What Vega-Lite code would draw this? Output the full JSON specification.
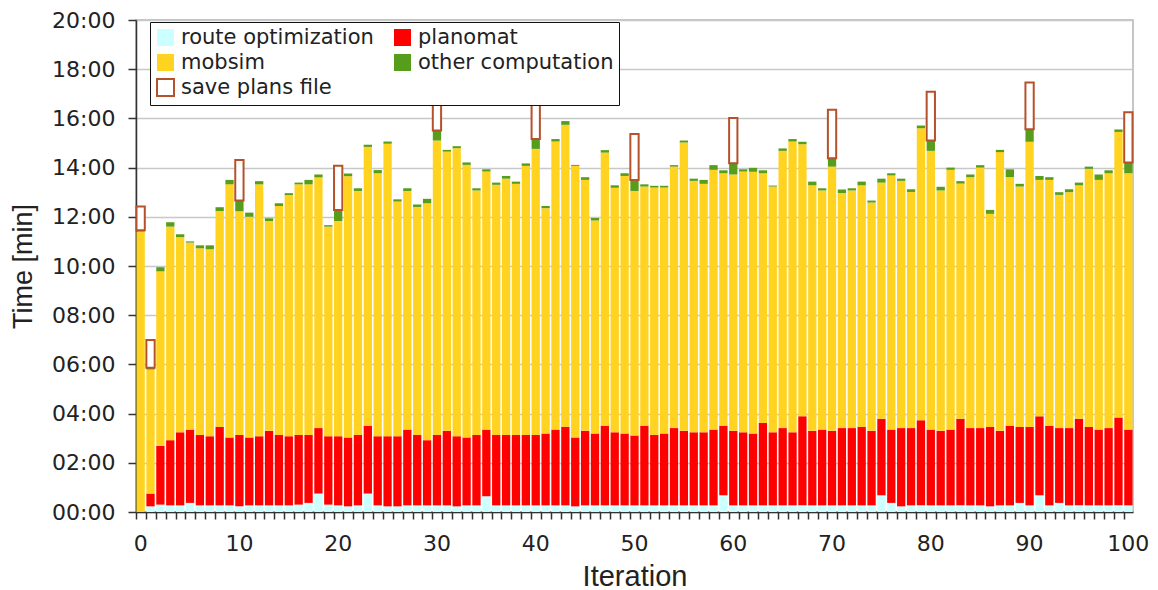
{
  "$schema": "https://vega.github.io/schema/vega-lite/v6.json",
  "width": 997,
  "height": 492,
  "autosize": {"type": "none"},
  "padding": {"left": 136, "top": 20, "right": 25, "bottom": 78},
  "background": "white",
  "config": {"view": {"stroke": "#b4b4b4", "strokeWidth": 1.5}, "font": "DejaVu Sans"},
  "datasets": {
    "comp": [
      {"key": "r", "label": "route optimization", "ord": 1},
      {"key": "p", "label": "planomat", "ord": 2},
      {"key": "m", "label": "mobsim", "ord": 3},
      {"key": "o", "label": "other computation", "ord": 4},
      {"key": "s", "label": "save plans file", "ord": 5}
    ]
  },
  "data": {"values": [
    {"i":0,"r":0,"p":0,"m":11.40,"o":0.05,"s":0.97},
    {"i":1,"r":0.23,"p":0.52,"m":5.04,"o":0.07,"s":1.13},
    {"i":2,"r":0.30,"p":2.39,"m":7.09,"o":0.17},
    {"i":3,"r":0.27,"p":2.65,"m":8.68,"o":0.18},
    {"i":4,"r":0.27,"p":2.97,"m":7.93,"o":0.12},
    {"i":5,"r":0.37,"p":2.98,"m":7.60,"o":0.05},
    {"i":6,"r":0.27,"p":2.86,"m":7.59,"o":0.12},
    {"i":7,"r":0.27,"p":2.81,"m":7.60,"o":0.16},
    {"i":8,"r":0.27,"p":3.19,"m":8.77,"o":0.16},
    {"i":9,"r":0.27,"p":2.76,"m":10.29,"o":0.18},
    {"i":10,"r":0.23,"p":2.90,"m":9.10,"o":0.43,"s":1.65},
    {"i":11,"r":0.27,"p":2.76,"m":8.97,"o":0.17},
    {"i":12,"r":0.27,"p":2.81,"m":10.24,"o":0.13},
    {"i":13,"r":0.27,"p":3.03,"m":8.53,"o":0.11},
    {"i":14,"r":0.27,"p":2.86,"m":9.31,"o":0.11},
    {"i":15,"r":0.27,"p":2.81,"m":9.80,"o":0.08},
    {"i":16,"r":0.30,"p":2.83,"m":10.19,"o":0.07},
    {"i":17,"r":0.37,"p":2.76,"m":10.19,"o":0.18},
    {"i":18,"r":0.75,"p":2.66,"m":10.19,"o":0.12},
    {"i":19,"r":0.30,"p":2.78,"m":8.52,"o":0.06},
    {"i":20,"r":0.27,"p":2.81,"m":8.75,"o":0.45,"s":1.80},
    {"i":21,"r":0.23,"p":2.80,"m":10.62,"o":0.11},
    {"i":22,"r":0.27,"p":2.86,"m":9.92,"o":0.11},
    {"i":23,"r":0.75,"p":2.76,"m":11.33,"o":0.09},
    {"i":24,"r":0.27,"p":2.81,"m":10.69,"o":0.13},
    {"i":25,"r":0.23,"p":2.85,"m":11.89,"o":0.09},
    {"i":26,"r":0.23,"p":2.85,"m":9.54,"o":0.09},
    {"i":27,"r":0.27,"p":3.08,"m":9.70,"o":0.11},
    {"i":28,"r":0.27,"p":2.86,"m":9.27,"o":0.10},
    {"i":29,"r":0.27,"p":2.65,"m":9.63,"o":0.18},
    {"i":30,"r":0.27,"p":2.86,"m":11.97,"o":0.41,"s":1.69},
    {"i":31,"r":0.27,"p":3.03,"m":11.35,"o":0.07},
    {"i":32,"r":0.23,"p":2.85,"m":11.71,"o":0.08},
    {"i":33,"r":0.27,"p":2.76,"m":11.08,"o":0.10},
    {"i":34,"r":0.27,"p":2.86,"m":9.94,"o":0.09},
    {"i":35,"r":0.64,"p":2.71,"m":10.49,"o":0.09},
    {"i":36,"r":0.27,"p":2.86,"m":10.17,"o":0.09},
    {"i":37,"r":0.27,"p":2.86,"m":10.42,"o":0.11},
    {"i":38,"r":0.27,"p":2.86,"m":10.21,"o":0.09},
    {"i":39,"r":0.27,"p":2.86,"m":10.94,"o":0.10},
    {"i":40,"r":0.27,"p":2.86,"m":11.63,"o":0.40,"s":1.98},
    {"i":41,"r":0.27,"p":2.92,"m":9.16,"o":0.09},
    {"i":42,"r":0.27,"p":3.08,"m":11.71,"o":0.10},
    {"i":43,"r":0.27,"p":3.19,"m":12.28,"o":0.15},
    {"i":44,"r":0.23,"p":2.80,"m":11.04,"o":0.04},
    {"i":45,"r":0.27,"p":3.03,"m":10.20,"o":0.11},
    {"i":46,"r":0.27,"p":2.92,"m":8.66,"o":0.10},
    {"i":47,"r":0.27,"p":3.24,"m":11.10,"o":0.10},
    {"i":48,"r":0.27,"p":2.97,"m":9.94,"o":0.10},
    {"i":49,"r":0.27,"p":2.92,"m":10.47,"o":0.11},
    {"i":50,"r":0.27,"p":2.84,"m":9.94,"o":0.45,"s":1.87},
    {"i":51,"r":0.27,"p":3.24,"m":9.72,"o":0.09},
    {"i":52,"r":0.27,"p":2.86,"m":10.06,"o":0.07},
    {"i":53,"r":0.27,"p":2.92,"m":10.00,"o":0.07},
    {"i":54,"r":0.27,"p":3.14,"m":10.63,"o":0.06},
    {"i":55,"r":0.27,"p":3.03,"m":11.72,"o":0.08},
    {"i":56,"r":0.27,"p":2.97,"m":10.22,"o":0.09},
    {"i":57,"r":0.27,"p":2.97,"m":10.10,"o":0.16},
    {"i":58,"r":0.27,"p":3.08,"m":10.56,"o":0.19},
    {"i":59,"r":0.68,"p":2.83,"m":10.26,"o":0.12},
    {"i":60,"r":0.27,"p":3.03,"m":10.42,"o":0.46,"s":1.84},
    {"i":61,"r":0.27,"p":2.97,"m":10.60,"o":0.09},
    {"i":62,"r":0.27,"p":2.92,"m":10.64,"o":0.16},
    {"i":63,"r":0.27,"p":3.35,"m":10.15,"o":0.12},
    {"i":64,"r":0.27,"p":2.97,"m":9.99,"o":0.04},
    {"i":65,"r":0.27,"p":3.14,"m":11.27,"o":0.10},
    {"i":66,"r":0.27,"p":2.97,"m":11.82,"o":0.10},
    {"i":67,"r":0.27,"p":3.62,"m":11.06,"o":0.10},
    {"i":68,"r":0.27,"p":3.03,"m":9.98,"o":0.15},
    {"i":69,"r":0.27,"p":3.08,"m":9.72,"o":0.09},
    {"i":70,"r":0.27,"p":3.03,"m":10.74,"o":0.34,"s":1.97},
    {"i":71,"r":0.27,"p":3.14,"m":9.55,"o":0.15},
    {"i":72,"r":0.27,"p":3.14,"m":9.66,"o":0.09},
    {"i":73,"r":0.27,"p":3.19,"m":9.82,"o":0.15},
    {"i":74,"r":0.27,"p":3.03,"m":9.28,"o":0.08},
    {"i":75,"r":0.68,"p":3.11,"m":9.60,"o":0.16},
    {"i":76,"r":0.37,"p":2.98,"m":10.33,"o":0.09},
    {"i":77,"r":0.23,"p":3.18,"m":10.05,"o":0.09},
    {"i":78,"r":0.27,"p":3.14,"m":9.60,"o":0.11},
    {"i":79,"r":0.27,"p":3.46,"m":11.87,"o":0.11},
    {"i":80,"r":0.27,"p":3.08,"m":11.33,"o":0.42,"s":1.98},
    {"i":81,"r":0.27,"p":3.03,"m":9.77,"o":0.15},
    {"i":82,"r":0.27,"p":3.08,"m":10.56,"o":0.09},
    {"i":83,"r":0.27,"p":3.52,"m":9.56,"o":0.10},
    {"i":84,"r":0.27,"p":3.14,"m":10.20,"o":0.11},
    {"i":85,"r":0.27,"p":3.14,"m":10.59,"o":0.10},
    {"i":86,"r":0.23,"p":3.23,"m":8.66,"o":0.16},
    {"i":87,"r":0.27,"p":3.03,"m":11.33,"o":0.09},
    {"i":88,"r":0.27,"p":3.24,"m":10.10,"o":0.32},
    {"i":89,"r":0.37,"p":3.09,"m":9.77,"o":0.11},
    {"i":90,"r":0.27,"p":3.19,"m":11.59,"o":0.51,"s":1.90},
    {"i":91,"r":0.68,"p":3.21,"m":9.61,"o":0.16},
    {"i":92,"r":0.27,"p":3.24,"m":9.99,"o":0.11},
    {"i":93,"r":0.37,"p":3.04,"m":9.48,"o":0.11},
    {"i":94,"r":0.27,"p":3.14,"m":9.59,"o":0.12},
    {"i":95,"r":0.27,"p":3.52,"m":9.49,"o":0.11},
    {"i":96,"r":0.27,"p":3.19,"m":10.49,"o":0.09},
    {"i":97,"r":0.27,"p":3.08,"m":10.15,"o":0.22},
    {"i":98,"r":0.27,"p":3.14,"m":10.36,"o":0.12},
    {"i":99,"r":0.27,"p":3.57,"m":11.61,"o":0.10},
    {"i":100,"r":0.27,"p":3.08,"m":10.42,"o":0.44,"s":2.04}
  ]},
  "transform": [
    {"fold": ["r", "p", "m", "o", "s"], "as": ["key", "minutes"]},
    {"filter": {"field": "minutes", "gt": 0}},
    {"lookup": "key", "from": {"data": {"name": "comp"}, "key": "key", "fields": ["label", "ord"]}}
  ],
  "mark": {"type": "bar", "strokeWidth": 2},
  "encoding": {
    "x": {
      "field": "i", "type": "ordinal",
      "scale": {"paddingInner": 0.16, "paddingOuter": 0.05},
      "axis": {
        "title": "Iteration",
        "labelExpr": "datum.value % 10 === 0 ? datum.label : ''",
        "labelAngle": 0,
        "bandPosition": 0,
        "tickSize": 7, "tickColor": "#333", "tickWidth": 1.5,
        "domainColor": "#333", "domainWidth": 1.5,
        "labelFont": "DejaVu Sans", "labelFontSize": 22, "labelColor": "#222", "labelPadding": 14,
        "titleFont": "Liberation Sans", "titleFontSize": 29, "titleFontWeight": "normal", "titleColor": "#222", "titlePadding": 8,
        "grid": false
      }
    },
    "y": {
      "field": "minutes", "type": "quantitative", "stack": "zero",
      "scale": {"domain": [0, 20], "nice": false},
      "axis": {
        "title": "Time [min]",
        "values": [0, 2, 4, 6, 8, 10, 12, 14, 16, 18, 20],
        "labelExpr": "(datum.value < 10 ? '0' : '') + datum.value + ':00'",
        "labelFont": "DejaVu Sans", "labelFontSize": 22, "labelColor": "#222", "labelPadding": 13,
        "tickSize": 8, "tickColor": "#333", "tickWidth": 1.5,
        "domainColor": "#333", "domainWidth": 1.5,
        "gridColor": "#c8c8c8", "gridWidth": 1.5,
        "titleFont": "Liberation Sans", "titleFontSize": 27, "titleFontWeight": "normal", "titleColor": "#222", "titlePadding": 14
      }
    },
    "color": {
      "field": "label", "type": "nominal",
      "sort": ["route optimization", "planomat", "mobsim", "other computation", "save plans file"],
      "scale": {
        "domain": ["route optimization", "planomat", "mobsim", "other computation", "save plans file"],
        "range": ["#ccffff", "#ff0000", "#ffd320", "#579d1c", "#ffffff"]
      },
      "legend": {
        "title": null, "orient": "none", "legendX": 14, "legendY": 2, "direction": "horizontal", "columns": 2,
        "fillColor": "white", "strokeColor": "#111", "padding": 5,
        "symbolType": "square", "symbolSize": 289, "symbolStrokeWidth": 2,
        "labelFont": "DejaVu Sans", "labelFontSize": 21, "labelColor": "#222", "labelOffset": 5, "labelLimit": 400,
        "columnPadding": 16, "rowPadding": 0
      }
    },
    "stroke": {
      "field": "label", "type": "nominal",
      "sort": ["route optimization", "planomat", "mobsim", "other computation", "save plans file"],
      "scale": {
        "domain": ["route optimization", "planomat", "mobsim", "other computation", "save plans file"],
        "range": ["transparent", "transparent", "transparent", "transparent", "#b5522b"]
      },
      "legend": {
        "title": null, "orient": "none", "legendX": 14, "legendY": 2, "direction": "horizontal", "columns": 2,
        "fillColor": "white", "strokeColor": "#111", "padding": 5,
        "symbolType": "square", "symbolSize": 289, "symbolStrokeWidth": 2,
        "labelFont": "DejaVu Sans", "labelFontSize": 21, "labelColor": "#222", "labelOffset": 5, "labelLimit": 400,
        "columnPadding": 16, "rowPadding": 0
      }
    },
    "order": {"field": "ord", "type": "quantitative"}
  }
}
